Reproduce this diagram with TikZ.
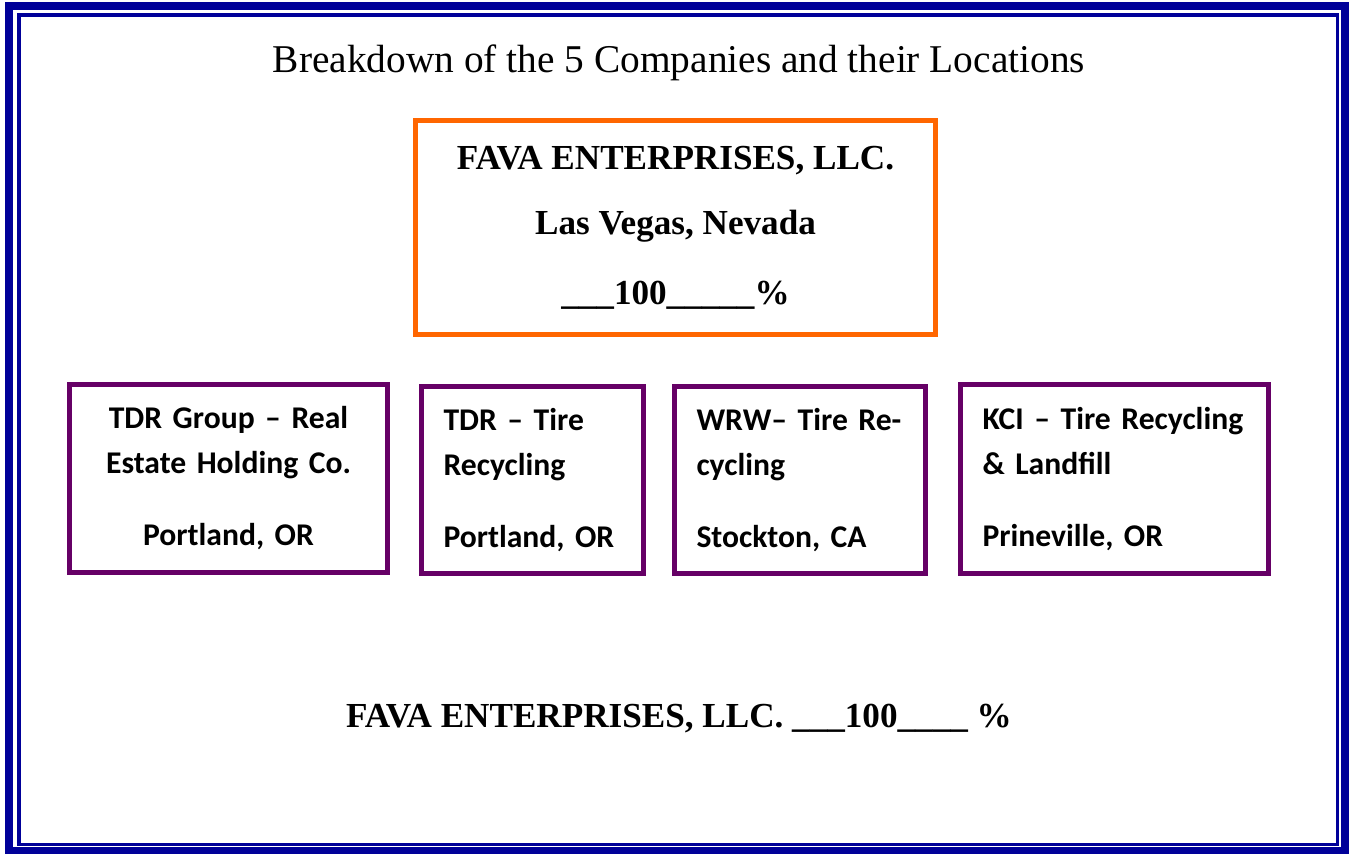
\documentclass[tikz,border=0pt]{standalone}
\usepackage{fontspec}
\setmainfont{Liberation Serif}
\newfontfamily\calib[WordSpace=0.8]{Carlito}
\usepackage{tikz}
\definecolor{frameblue}{RGB}{0,0,153}
\definecolor{favaorange}{RGB}{255,102,0}
\definecolor{firmpurple}{RGB}{102,0,102}
\tikzset{
  firm/.style={draw=firmpurple, line width=2.8pt, inner xsep=0.44cm, minimum height=3.76cm,
    font=\calib\bfseries\fontsize{18}{25.6}\selectfont},
  parent/.style={draw=favaorange, line width=2.85pt, align=center,
    font=\bfseries\fontsize{20}{37}\selectfont}
}

\begin{document}
\begin{tikzpicture}[x=0.02cm, y=-0.02cm]
  \useasboundingbox (0,0) rectangle (1349,854);
  % double frame
  \draw[frameblue, line width=4.55pt] (9,6) rectangle (1345,851);
  \draw[frameblue, line width=2pt] (19,15) rectangle (1337.5,844.5);

  \node (title) at (679,63) {\fontsize{22.4}{27}\selectfont Breakdown of the 5 Companies and their Locations};

  \node[parent, minimum width=10.4cm, minimum height=4.28cm] (fava) at (675.5,227.5)
    {FAVA ENTERPRISES, LLC.\\Las Vegas, Nevada\\[3pt]\_\_\_100\_\_\_\_\_\%};

  \node[firm, text width=5.48cm, align=center] (tdrgroup) at (228.5,478.5)
    {TDR Group – Real\\Estate Holding Co.\\[15.4pt]Portland, OR};
  \node[firm, text width=3.56cm, align=left, minimum height=3.74cm] (tdr) at (532.5,480)
    {TDR – Tire\\Recycling\\[15.4pt]Portland, OR};
  \node[firm, text width=4.14cm, align=left, minimum height=3.74cm] (wrw) at (800,480)
    {WRW– Tire Re-\\cycling\\[15.4pt]Stockton, CA};
  \node[firm, text width=5.28cm, align=left, minimum height=3.78cm] (kci) at (1114.5,479)
    {KCI – Tire Recycling\\\& Landfill\\[15.4pt]Prineville, OR};

  \node[font=\bfseries\fontsize{20}{24}\selectfont] (total) at (679,719)
    {FAVA ENTERPRISES, LLC. \_\_\_100\_\_\_\_ \%};
\end{tikzpicture}
\end{document}
